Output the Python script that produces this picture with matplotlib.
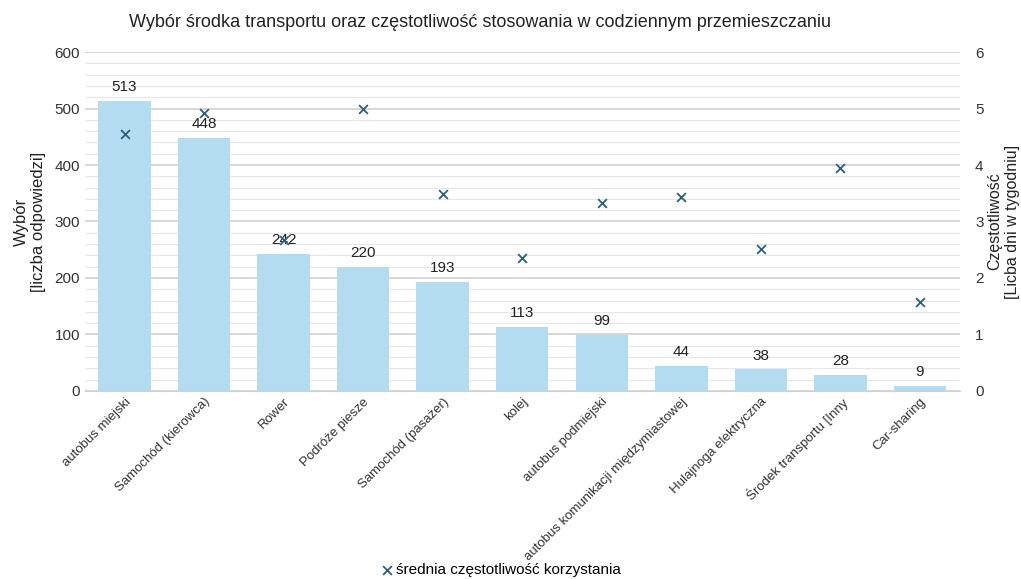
import matplotlib
matplotlib.use('Agg')
import matplotlib.pyplot as plt
from matplotlib.ticker import MultipleLocator

plt.rcParams['font.family'] = ['Liberation Sans', 'DejaVu Sans']

categories = ['autobus miejski', 'Samochód (kierowca)', 'Rower', 'Podróże piesze',
              'Samochód (pasażer)', 'kolej', 'autobus podmiejski',
              'autobus komunikacji międzymiastowej', 'Hulajnoga elektryczna',
              'Środek transportu [Inny', 'Car-sharing']
choices = [513, 448, 242, 220, 193, 113, 99, 44, 38, 28, 9]
frequency = [4.55, 4.92, 2.68, 4.99, 3.49, 2.35, 3.32, 3.43, 2.52, 3.95, 1.57]

fig = plt.figure(figsize=(10.21, 5.79), dpi=100)
ax = fig.add_axes([0.083, 0.325, 0.857, 0.585])
ax2 = ax.twinx()

x = range(len(categories))
bars = ax.bar(x, choices, width=0.66, color='#b3dcf1', zorder=2)
for xi, v in zip(x, choices):
    ax.text(xi, v + 12, str(v), ha='center', va='bottom', fontsize=11, color='#222222', zorder=4)

ax.set_ylim(0, 600)
ax.set_xlim(-0.5, len(categories) - 0.5)
ax.yaxis.set_major_locator(MultipleLocator(100))
ax.yaxis.set_minor_locator(MultipleLocator(20))
ax.grid(axis='y', which='major', color='#d0d0d0', linewidth=1.2, zorder=0)
ax.grid(axis='y', which='minor', color='#e6e6e6', linewidth=0.8, zorder=0)
ax.set_axisbelow(True)
ax.tick_params(axis='both', which='both', length=0, labelsize=11, colors='#333333')
ax.set_xticks(list(x))
ax.set_xticklabels(categories, rotation=45, ha='right', rotation_mode='anchor', fontsize=9.5)
ax.set_ylabel('Wybór\n[liczba odpowiedzi]', fontsize=12, color='#222222', labelpad=6)
for s in ['top', 'right', 'left']:
    ax.spines[s].set_visible(False)
ax.spines['bottom'].set_color('#d0d0d0')
ax.spines['bottom'].set_zorder(1)

ax2.scatter(x, frequency, marker='x', s=40, color='#2b5f7c', linewidths=1.3, zorder=5,
            label='średnia częstotliwość korzystania')
ax2.set_ylim(0, 6)
ax2.yaxis.set_major_locator(MultipleLocator(1))
ax2.tick_params(axis='y', length=0, labelsize=11, colors='#333333', pad=11)
ax2.set_ylabel('Częstotliwość\n[Licba dni w tygodniu]', fontsize=11.5, color='#222222', labelpad=3)
for s in ax2.spines.values():
    s.set_visible(False)

fig.suptitle('Wybór środka transportu oraz częstotliwość stosowania w codziennym przemieszczaniu',
             x=0.47, y=0.975, fontsize=13, color='#222222')
fig.legend(loc='lower center', bbox_to_anchor=(0.49, -0.02), frameon=False, fontsize=11,
           handletextpad=0.1, handlelength=1.0)

fig.savefig('out.png', dpi=100)
